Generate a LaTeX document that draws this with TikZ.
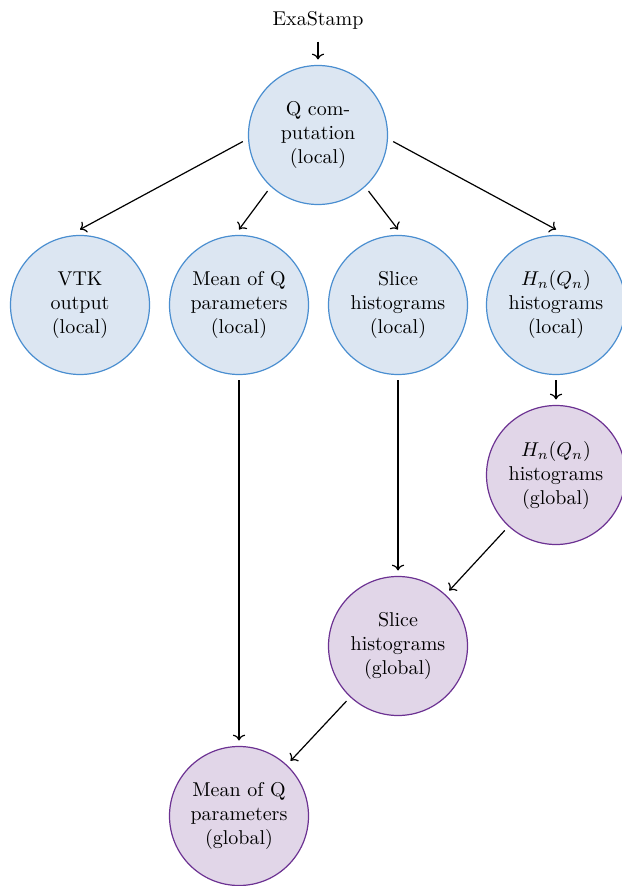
\documentclass[tikz,border=0pt]{standalone}
\usetikzlibrary{arrows.meta}
\definecolor{lblue}{RGB}{220,230,242}
\definecolor{dblue}{RGB}{74,142,208}
\definecolor{lpurp}{RGB}{225,214,232}
\definecolor{dpurp}{RGB}{108,50,146}
\begin{document}
\begin{tikzpicture}[x=0.5pt,y=-0.5pt,
  stage/.style={circle,minimum size=69.5pt,inner sep=0pt,outer sep=3pt,align=center,semithick},
  loc/.style={stage,fill=lblue,draw=dblue},
  glob/.style={stage,fill=lpurp,draw=dpurp},
  flow/.style={->,semithick}]
\useasboundingbox (0,0) rectangle (621,886);
\node[outer sep=3pt] (exa) at (318,20) {ExaStamp};
\node[loc] (q) at (318,135) {Q com-\\putation\\(local)};
\node[loc] (vtk) at (80,305) {VTK\\output\\(local)};
\node[loc] (mean) at (239,305) {Mean of Q\\parameters\\(local)};
\node[loc] (slice) at (398,305) {Slice\\histograms\\(local)};
\node[loc] (hn) at (556,305) {$H_n(Q_n)$\\histograms\\(local)};
\node[glob] (hng) at (556,475) {$H_n(Q_n)$\\histograms\\(global)};
\node[glob] (sliceg) at (398,646) {Slice\\histograms\\(global)};
\node[glob] (meang) at (239,816) {Mean of Q\\parameters\\(global)};
\draw[flow] (exa) -- (q);
\draw[flow] (q.185) -- (vtk.north);
\draw[flow] (q.228) -- (mean.north);
\draw[flow] (q.312) -- (slice.north);
\draw[flow] (q.355) -- (hn.north);
\draw[flow] (hn) -- (hng);
\draw[flow] (hng) -- (sliceg);
\draw[flow] (slice) -- (sliceg);
\draw[flow] (sliceg) -- (meang);
\draw[flow] (mean) -- (meang);
\end{tikzpicture}
\end{document}
